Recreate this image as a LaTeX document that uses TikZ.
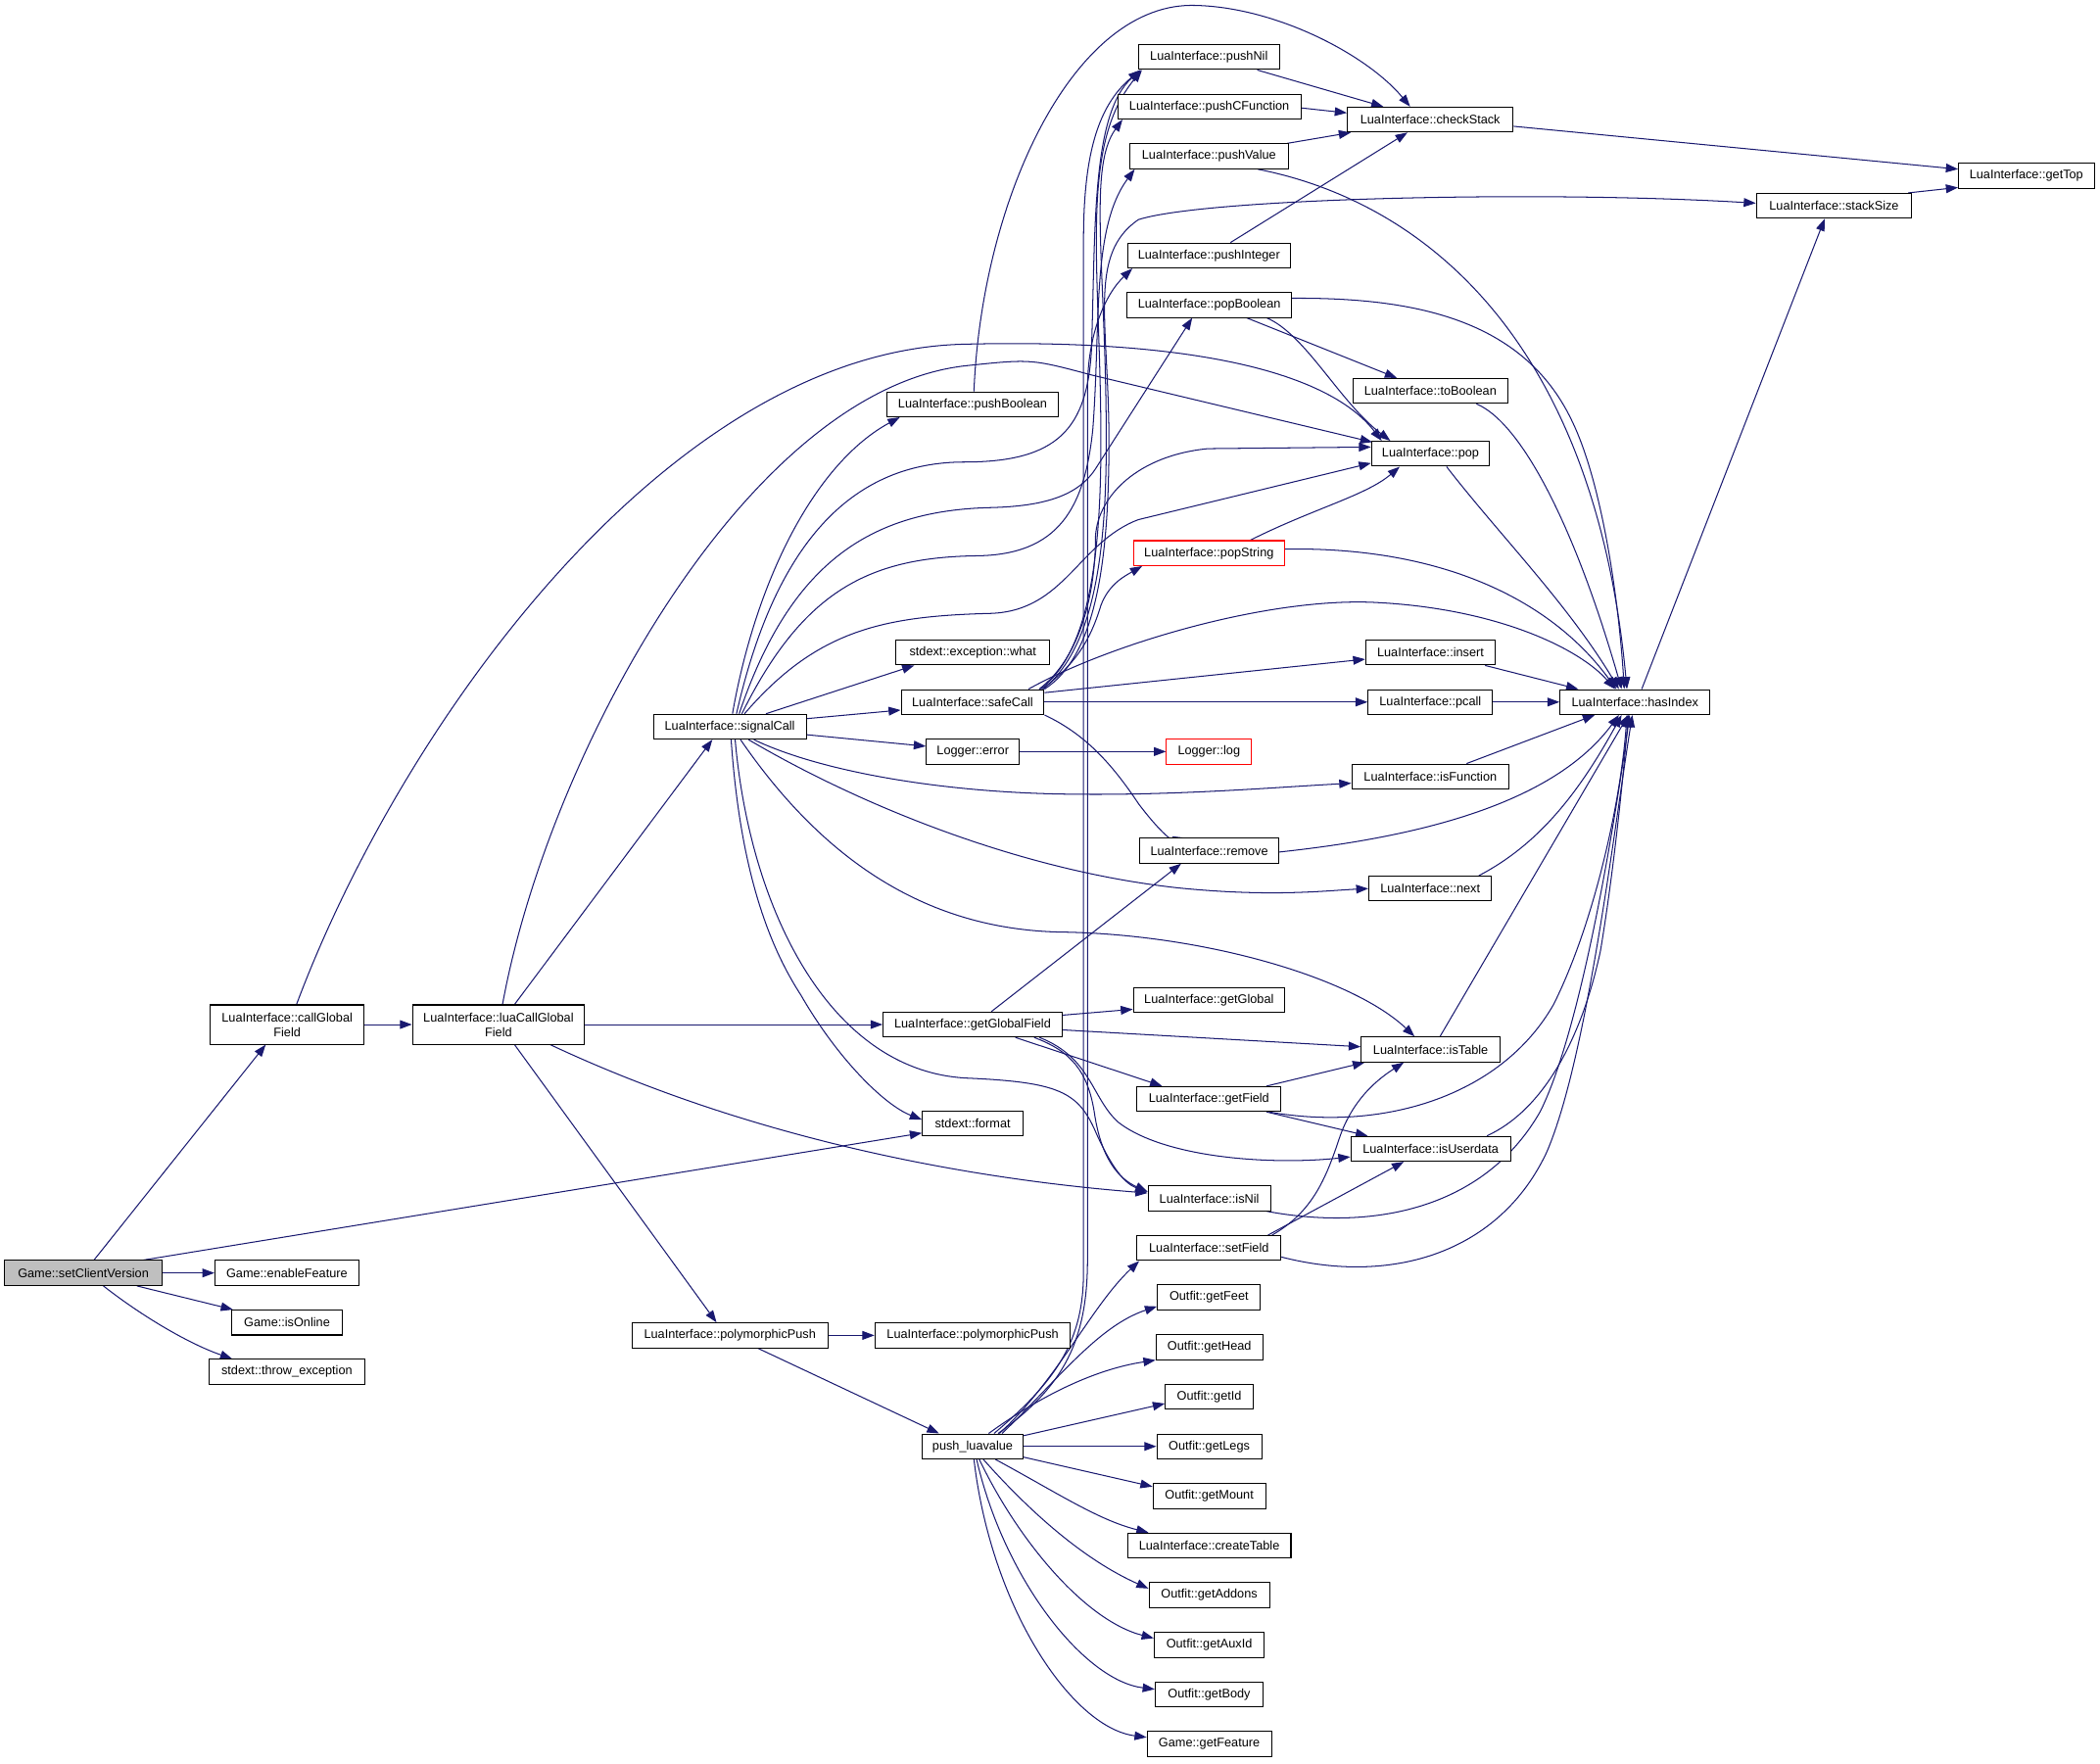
\documentclass[tikz,border=0pt]{standalone}
\usepackage{fontspec}
\setmainfont{Liberation Sans}
\usetikzlibrary{arrows.meta,calc}
\definecolor{edgeblue}{HTML}{191970}
\definecolor{nodegray}{HTML}{BFBFBF}
\pgfdeclarelayer{bg}
\pgfsetlayers{bg,main}
\newcommand{\bxnode}[5][]{\node[bx,minimum width=#4pt,#1] (#2) at (#3) {#5};}
\begin{document}
\begin{tikzpicture}[x=1pt,y=-1pt,
  bx/.style={draw=black,line width=0.75pt,fill=white,rectangle,inner sep=0pt,minimum height=18.6pt,font=\fontsize{9.3}{11}\selectfont},
  redbx/.style={draw=red},
  edg/.style={draw=edgeblue,line width=0.75pt,-{Triangle[length=9pt,width=6.5pt]}}]
\useasboundingbox (0,0) rectangle (1568,1316.5);
% ---------- nodes ----------
\bxnode[fill=nodegray]{scv}{62.2,950.5}{117.5}{Game::setClientVersion}
\bxnode[minimum height=29.3pt,align=center]{cgf}{214.4,765}{115}{LuaInterface::callGlobal\\Field}
\bxnode[minimum height=29.3pt,align=center]{lcgf}{372.2,765}{128.5}{LuaInterface::luaCallGlobal\\Field}
\bxnode{enf}{214.2,950.5}{107.4}{Game::enableFeature}
\bxnode{iso}{214.3,987.5}{82}{Game::isOnline}
\bxnode{thr}{214.2,1024.3}{116.8}{stdext::throw\_exception}
\bxnode{sig}{544.9,542.6}{114}{LuaInterface::signalCall}
\bxnode{gfld}{726.2,765}{133.7}{LuaInterface::getGlobalField}
\bxnode{pp1}{545,997.1}{146.5}{LuaInterface::polymorphicPush}
\bxnode{pp2}{726.3,997.1}{146}{LuaInterface::polymorphicPush}
\bxnode{plv}{726.2,1080}{75.3}{push\_luavalue}
\bxnode{pbool}{726.2,301.9}{128}{LuaInterface::pushBoolean}
\bxnode{what}{726.4,487.2}{114.8}{stdext::exception::what}
\bxnode{safe}{726.2,524.2}{106.7}{LuaInterface::safeCall}
\bxnode{lerr}{726.4,561.2}{69.5}{Logger::error}
\bxnode{fmt}{726.3,839}{75.2}{stdext::format}
\bxnode{pnil}{902.7,42.6}{105.3}{LuaInterface::pushNil}
\bxnode{pcf}{902.9,79.6}{136.8}{LuaInterface::pushCFunction}
\bxnode{pval}{902.7,116.7}{118.2}{LuaInterface::pushValue}
\bxnode{pint}{902.7,190.8}{121.7}{LuaInterface::pushInteger}
\bxnode{pbo}{902.9,227.7}{122.7}{LuaInterface::popBoolean}
\bxnode[redbx]{pstr}{902.7,413}{113}{LuaInterface::popString}
\bxnode[redbx]{llog}{902.7,561.2}{63.4}{Logger::log}
\bxnode{rem}{902.9,635.2}{103.5}{LuaInterface::remove}
\bxnode{gglob}{902.7,746.6}{113}{LuaInterface::getGlobal}
\bxnode{gfield}{902.7,820.6}{107.4}{LuaInterface::getField}
\bxnode{isnil}{902.9,894.8}{91.4}{LuaInterface::isNil}
\bxnode{sfield}{902.7,931.9}{107.4}{LuaInterface::setField}
\bxnode{feet}{902.7,968.8}{77}{Outfit::getFeet}
\bxnode{head}{903,1005.9}{79.7}{Outfit::getHead}
\bxnode{gid}{902.9,1043}{65.6}{Outfit::getId}
\bxnode{legs}{902.9,1080}{78.2}{Outfit::getLegs}
\bxnode{mount}{902.9,1117}{84}{Outfit::getMount}
\bxnode{ctab}{902.9,1154}{122}{LuaInterface::createTable}
\bxnode{addons}{902.9,1191.1}{90}{Outfit::getAddons}
\bxnode{auxid}{902.9,1228.2}{82.2}{Outfit::getAuxId}
\bxnode{body}{902.8,1265.3}{80.5}{Outfit::getBody}
\bxnode{gfeat}{902.9,1302.2}{92.8}{Game::getFeature}
\bxnode{chk}{1067.9,89.3}{123.8}{LuaInterface::checkStack}
\bxnode{tbool}{1068,291.9}{116}{LuaInterface::toBoolean}
\bxnode{pop}{1068.1,338.8}{88.2}{LuaInterface::pop}
\bxnode{ins}{1068.1,487.2}{96.8}{LuaInterface::insert}
\bxnode{pcall}{1068,524.2}{93}{LuaInterface::pcall}
\bxnode{isfn}{1068,579.8}{117.3}{LuaInterface::isFunction}
\bxnode{next}{1067.9,663.5}{91.8}{LuaInterface::next}
\bxnode{istab}{1068.2,783.6}{103.6}{LuaInterface::isTable}
\bxnode{isud}{1068.2,857.8}{119.2}{LuaInterface::isUserdata}
\bxnode{hidx}{1220.8,524.2}{112}{LuaInterface::hasIndex}
\bxnode{ssize}{1369.4,153.7}{116}{LuaInterface::stackSize}
\bxnode{gtop}{1513,131.3}{101.3}{LuaInterface::getTop}
% ---------- edges ----------
\begin{pgfonlayer}{bg}
\fill[white] (0,0) rectangle (1568,1316.5);
% setClientVersion
\draw[edg] ($(scv.north)+(8,0)$) -- ($(cgf.south)+(-16,0)$);
\draw[edg] (scv.east) -- (enf.west);
\draw[edg] ($(scv.south)+(40,0)$) -- ($(iso.north west)+(1,0)$);
\draw[edg] ($(scv.south)+(15,0)$) .. controls (105,982) and (140,1003) .. ($(thr.north west)+(18,0)$);
\draw[edg] ($(scv.north)+(45,0)$) -- ($(fmt.west)+(0,7)$);
% callGlobalField
\draw[edg] (cgf.east) -- (lcgf.west);
\draw[edg] ($(cgf.north)+(7,0)$) .. controls (300,540) and (500,262) .. (720,257) .. controls (880,253) and (990,275) .. ($(pop.north west)+(8,0)$);
% luaCallGlobalField
\draw[edg] (lcgf.east) -- (gfld.west);
\draw[edg] ($(lcgf.north)+(12,0)$) -- ($(sig.south)+(-13,0)$);
\draw[edg] ($(lcgf.south)+(12,0)$) -- ($(pp1.north)+(-10,0)$);
\draw[edg] ($(lcgf.south east)+(-26,0)$) .. controls (560,850) and (720,880) .. ($(isnil.west)+(0,-4)$);
\draw[edg] ($(lcgf.north)+(3,0)$) .. controls (410,560) and (560,290) .. (722,273) .. controls (770,268) .. (815,280) -- ($(pop.north west)+(1,1)$);
% signalCall
\draw[edg] ($(sig.north)+(2,0)$) .. controls (565,430) and (610,345) .. ($(pbool.south west)+(10,0)$);
\draw[edg] ($(sig.north)+(27,0)$) -- ($(what.south west)+(14,0)$);
\draw[edg] ($(sig.east)+(0,-6)$) -- ($(safe.west)+(0,6)$);
\draw[edg] ($(sig.east)+(0,6)$) -- ($(lerr.west)+(0,-4)$);
\draw[edg] ($(sig.south)+(18,0)$) .. controls (610,575) and (700,592) .. (800,593) .. controls (880,594) and (950,588) .. ($(isfn.west)+(0,5)$);
\draw[edg] ($(sig.south)+(14,0)$) .. controls (640,600) and (760,650) .. (880,663) .. controls (950,670) and (990,665) .. (next.west);
\draw[edg] ($(sig.south)+(8,0)$) .. controls (620,650) and (700,695) .. (795,696) .. controls (900,698) and (1010,730) .. ($(istab.north)+(-12,0)$);
\draw[edg] ($(sig.south)+(1,0)$) .. controls (552,640) and (570,700) .. (598,743) .. controls (625,790) and (660,825) .. ($(fmt.west)+(0,-3)$);
\draw[edg] ($(sig.south)+(4,0)$) .. controls (560,680) and (620,800) .. (722,805) .. controls (790,808) and (805,815) .. (818,845) .. controls (830,872) and (840,884) .. ($(isnil.west)+(0,-5)$);
\draw[edg] ($(sig.north)+(5,0)$) .. controls (580,400) and (640,345) .. (720,345) .. controls (790,345) and (812,320) .. (815,260) .. controls (818,170) and (815,85) .. ($(pnil.south west)+(2,0)$);
\draw[edg] ($(sig.north)+(7,0)$) .. controls (590,420) and (650,381) .. (740,379) .. controls (780,378) and (805,370) .. (818,350) -- ($(pbo.south west)+(49,0)$);
\draw[edg] ($(sig.north)+(9,0)$) .. controls (600,440) and (650,416) .. (730,415) .. controls (790,414) and (810,380) .. (816,320) .. controls (822,240) and (815,170) .. ($(pval.south west)+(4,0)$);
\draw[edg] ($(sig.north)+(11,0)$) .. controls (610,470) and (660,460) .. (740,458) .. controls (795,456) and (805,405) .. (850,388) -- ($(pop.west)+(0,7)$);
% safeCall
\draw[edg] ($(safe.east)+(0,-7)$) -- ($(ins.west)+(0,5)$);
\draw[edg] (safe.east) -- (pcall.west);
\draw[edg] ($(safe.north east)+(-12,0)$) .. controls (830,480) and (950,445) .. (1030,450) .. controls (1120,455) and (1180,485) .. ($(hidx.north)+(-15,0)$);
\draw[edg] (safe.south east) .. controls (810,548) and (830,570) .. (850,600) .. controls (865,620) and (875,628) .. ($(rem.north)+(-18,0)$);
\draw[edg] ($(safe.north east)+(-2,0)$) .. controls (805,495) and (815,475) .. (822,452) .. controls (828,436) and (840,430) .. ($(pstr.south west)+(7,0)$);
\draw[edg] ($(safe.north east)+(-4,0)$) .. controls (808,490) and (818,440) .. (818,400) .. controls (820,370) and (850,340) .. (902,335) -- ($(pop.west)+(0,-5)$);
\draw[edg] ($(safe.north east)+(-3,0)$) .. controls (812,488) and (822,420) .. (822,330) .. controls (822,200) and (805,110) .. ($(pnil.south west)+(3,0)$);
\draw[edg] ($(safe.north east)+(-1,0)$) .. controls (815,485) and (826,420) .. (826,330) .. controls (826,200) and (812,125) .. ($(pcf.south west)+(4,0)$);
\draw[edg] (safe.north east) .. controls (818,490) and (828,420) .. (828,330) .. controls (828,240) and (812,190) .. (850,164) .. controls (900,148) and (1150,142) .. ($(ssize.west)+(0,-2)$);
% push_luavalue
\draw[edg] ($(plv.north)+(16,0)$) .. controls (790,1030) and (809,1000) .. (809,950) -- (809,180) .. controls (809,120) and (818,80) .. ($(pnil.south west)+(2,0)$);
\draw[edg] ($(plv.north)+(19,0)$) .. controls (795,1035) and (812,1000) .. (812,940) -- (812,290) .. controls (812,250) and (825,220) .. ($(pint.south west)+(4,0)$);
\draw[edg] ($(plv.north)+(20,0)$) .. controls (790,1030) and (815,975) .. ($(sfield.south west)+(2,0)$);
\draw[edg] ($(plv.north)+(22,0)$) .. controls (790,1030) and (820,990) .. ($(feet.south west)+(0,-3)$);
\draw[edg] ($(plv.north)+(12,0)$) .. controls (780,1040) and (820,1022) .. (head.south west);
\draw[edg] ($(plv.east)+(0,-8)$) -- ($(gid.west)+(0,5)$);
\draw[edg] (plv.east) -- (legs.west);
\draw[edg] ($(plv.east)+(0,8)$) -- ($(mount.west)+(0,-7)$);
\draw[edg] ($(plv.south)+(17,0)$) .. controls (790,1115) and (820,1135) .. ($(ctab.north west)+(16,0)$);
\draw[edg] ($(plv.south)+(8,0)$) .. controls (770,1130) and (810,1165) .. ($(addons.west)+(0,-5)$);
\draw[edg] ($(plv.south)+(5,0)$) .. controls (760,1150) and (810,1210) .. ($(auxid.west)+(0,-5)$);
\draw[edg] ($(plv.south)+(3,0)$) .. controls (750,1180) and (810,1255) .. ($(body.west)+(0,-4)$);
\draw[edg] ($(plv.south)+(1,0)$) .. controls (740,1200) and (800,1290) .. ($(gfeat.west)+(0,-5)$);
% polymorphicPush
\draw[edg] (pp1.east) -- (pp2.west);
\draw[edg] ($(pp1.south)+(21,0)$) -- ($(plv.north west)+(13,0)$);
% getGlobalField
\draw[edg] ($(gfld.north)+(14,0)$) -- ($(rem.south)+(-21,0)$);
\draw[edg] ($(gfld.east)+(0,-7)$) -- ($(gglob.west)+(0,7)$);
\draw[edg] ($(gfld.east)+(0,4)$) -- ($(istab.west)+(0,-2)$);
\draw[edg] ($(gfld.south)+(32,0)$) -- ($(gfield.north)+(-35,0)$);
\draw[edg] ($(gfld.south)+(46,0)$) .. controls (800,785) and (812,800) .. (817,830) .. controls (822,865) and (835,880) .. ($(isnil.west)+(0,-5)$);
\draw[edg] ($(gfld.south)+(50,0)$) .. controls (815,790) and (815,820) .. (835,838) .. controls (870,865) and (950,870) .. ($(isud.west)+(0,6)$);
% getField / setField / isNil / isUserdata / isTable
\draw[edg] ($(gfield.north east)+(-11,0)$) -- ($(istab.south west)+(3,0)$);
\draw[edg] ($(gfield.south east)+(-11,0)$) -- ($(isud.north west)+(13,0)$);
\draw[edg] ($(gfield.south east)+(-9,0)$) .. controls (1030,845) and (1120,820) .. (1160,750) .. controls (1190,690) and (1210,600) .. ($(hidx.south)+(-6,0)$);
\draw[edg] ($(isnil.south east)+(-3,0)$) .. controls (1030,920) and (1110,900) .. (1150,830) .. controls (1180,770) and (1205,620) .. ($(hidx.south)+(-4,0)$);
\draw[edg] ($(sfield.south east)+(0,-3)$) .. controls (1040,960) and (1120,935) .. (1155,860) .. controls (1185,790) and (1205,620) .. ($(hidx.south)+(-2,0)$);
\draw[edg] ($(sfield.north east)+(-7,0)$) .. controls (980,905) and (990,880) .. (1000,850) .. controls (1010,820) and (1030,805) .. ($(istab.south)+(-20,0)$);
\draw[edg] ($(sfield.north east)+(-10,0)$) -- ($(isud.south)+(-20,0)$);
\draw[edg] ($(isud.north east)+(-18,0)$) .. controls (1150,830) and (1180,780) .. (1195,710) .. controls (1205,650) and (1212,580) .. ($(hidx.south)+(-5,0)$);
\draw[edg] ($(istab.north)+(7,0)$) -- ($(hidx.south)+(-5,0)$);
% column 4 to hasIndex
\draw[edg] ($(ins.south east)+(-8,0)$) -- ($(hidx.north west)+(14,0)$);
\draw[edg] (pcall.east) -- (hidx.west);
\draw[edg] ($(isfn.north east)+(-32,0)$) -- ($(hidx.south)+(-30,0)$);
\draw[edg] ($(rem.east)+(0,1)$) .. controls (1060,625) and (1160,600) .. ($(hidx.south)+(-12,0)$);
\draw[edg] ($(next.north east)+(-10,0)$) .. controls (1150,630) and (1180,590) .. ($(hidx.south)+(-10,0)$);
\draw[edg] ($(pop.south)+(12,0)$) .. controls (1120,400) and (1170,450) .. ($(hidx.north)+(-12,0)$);
\draw[edg] ($(pstr.north east)+(-26,0)$) .. controls (980,380) and (1020,370) .. ($(pop.south)+(-23,0)$);
\draw[edg] ($(pstr.east)+(0,-3)$) .. controls (1080,408) and (1160,450) .. ($(hidx.north)+(-14,0)$);
\draw[edg] ($(tbool.south east)+(-24,0)$) .. controls (1135,315) and (1175,390) .. ($(hidx.north)+(-10,0)$);
\draw[edg] ($(pbo.east)+(0,-5)$) .. controls (1060,222) and (1140,240) .. (1175,317) .. controls (1195,360) and (1208,440) .. ($(hidx.north)+(-8,0)$);
\draw[edg] ($(pval.south east)+(-23,0)$) .. controls (1060,150) and (1190,250) .. ($(hidx.north)+(-6,0)$);
\draw[edg] ($(pbo.south)+(28,0)$) -- ($(tbool.north)+(-25,0)$);
\draw[edg] ($(pbo.south)+(43,0)$) .. controls (975,250) and (1000,300) .. ($(pop.north)+(-30,0)$);
% to checkStack / getTop / stackSize
\draw[edg] ($(pbool.north)+(1,0)$) .. controls (733,150) and (800,5) .. (889,4) .. controls (950,4) and (1020,40) .. ($(chk.north)+(-15,0)$);
\draw[edg] ($(pnil.south east)+(-17,0)$) -- ($(chk.north)+(-35,0)$);
\draw[edg] ($(pcf.east)+(0,1)$) -- ($(chk.west)+(0,-5)$);
\draw[edg] ($(pval.north east)+(-1,0)$) -- ($(chk.south west)+(3,0)$);
\draw[edg] ($(pint.north)+(16,0)$) -- ($(chk.south)+(-17,0)$);
\draw[edg] ($(chk.east)+(0,5)$) -- ($(gtop.west)+(0,-5)$);
\draw[edg] ($(ssize.north east)+(-3,0)$) -- ($(gtop.south west)+(0,-1)$);
\draw[edg] ($(hidx.north)+(5,0)$) -- ($(ssize.south)+(-7,0)$);
% Logger
\draw[edg] (lerr.east) -- (llog.west);
\end{pgfonlayer}
\end{tikzpicture}
\end{document}
